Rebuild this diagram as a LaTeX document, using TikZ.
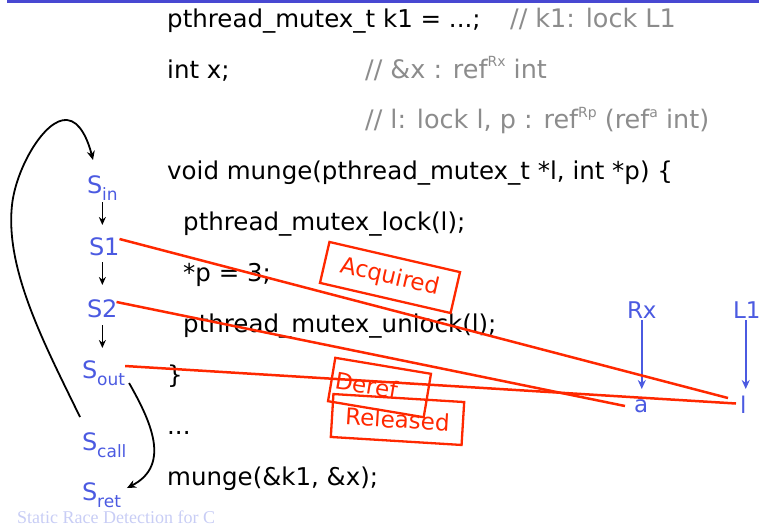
\documentclass[tikz,border=0pt]{standalone}
\usepackage{fontspec}
\setmainfont{DejaVu Sans}
\newfontfamily\footfont{Liberation Serif}
\usetikzlibrary{arrows.meta}
\definecolor{lblue}{RGB}{75,90,225}
\definecolor{barblue}{RGB}{72,72,210}
\definecolor{myred}{RGB}{255,40,0}
\definecolor{cgrey}{RGB}{140,140,140}
\definecolor{footblue}{RGB}{200,205,245}
\newcommand\supx[1]{\raisebox{0.45em}{\fontsize{14}{14}\selectfont #1}}
\newcommand\subx[1]{\raisebox{-0.3em}{\fontsize{17}{17}\selectfont #1}}
\begin{document}
\begin{tikzpicture}[x=1pt,y=-1pt,
  code/.style={anchor=base west,inner sep=0pt,font=\fontsize{24.5}{24.5}\selectfont},
  cmt/.style={code,text=cgrey,font=\fontsize{25.5}{25.5}\selectfont},
  lab/.style={anchor=base west,inner sep=0pt,outer sep=0pt,text=lblue,
    text height=17pt,text depth=0pt,font=\fontsize{24}{24}\selectfont},
  tagbox/.style={draw=myred,text=myred,line width=2.3pt,inner sep=0pt,
    font=\fontsize{23}{23}\selectfont},
  redline/.style={draw=myred,line width=2.5pt},
  sarr/.style={draw=black,line width=1.6pt,-{Stealth[length=8pt,width=7pt]}},
  barr/.style={draw=lblue,line width=2pt,-{Stealth[length=9pt,width=8pt]}},
  carr/.style={draw=black,line width=1.8pt,-{Stealth[length=9pt,width=8pt]}}]
\useasboundingbox (0,0) rectangle (759,528);
\fill[barblue] (7,0) rectangle (759,3);

% footer
\node[anchor=base west,inner sep=0pt,text=footblue,font=\footfont\fontsize{18}{18}\selectfont] (foot) at (17,523) {Static Race Detection for C};

% code
\node[code] (c0) at (167,27) {pthread\_mutex\_t k1 = ...;};
\node[cmt] (m0) at (510,27) {// k1: lock L1};
\node[code] (c1) at (167,78) {int x;};
\node[cmt] (m1) at (365,78) {// \&x : ref\supx{Rx} int};
\node[cmt] (m2) at (365,128.8) {// l: lock l, p : ref\supx{Rp} (ref\supx{a} int)};
\node[code] (c3) at (167,179.7) {void munge(pthread\_mutex\_t *l, int *p) \{};
\node[code] (c4) at (183,230.6) {pthread\_mutex\_lock(l);};
\node[code] (c5) at (183,281.5) {*p = 3;};
\node[code] (c6) at (183,332.4) {pthread\_mutex\_unlock(l);};
\node[code] (c7) at (167,383.3) {\}};
\node[code] (c8) at (167,434.2) {...};
\node[code] (c9) at (167,485) {munge(\&k1, \&x);};

% left labels
\node[lab] (sin) at (87,193) {S\subx{in}};
\node[lab] (s1) at (89,255) {S1};
\node[lab] (s2) at (87,317) {S2};
\node[lab] (sout) at (82,378) {S\subx{out}};
\node[lab] (scall) at (82,450) {S\subx{call}};
\node[lab] (sret) at (82,500) {S\subx{ret}};

\draw[sarr,shorten <=9pt,shorten >=13pt] (sin.south) -- (sin.south |- s1.north);
\draw[sarr,shorten <=7pt,shorten >=15pt] (sin.south |- s1.south) -- (sin.south |- s2.north);
\draw[sarr,shorten <=8pt,shorten >=13pt] (sin.south |- s2.south) -- (sin.south |- sout.north);

% curved call/return arrows
\draw[carr] ([shift={(-2,-16)}]scall.north west)
  .. controls (45,345) and (5,270) .. (12,205)
  .. controls (16,168) and (45,118) .. (67,120)
  .. controls (80,121) and (88,140) .. ([shift={(6,-16)}]sin.north west);
\draw[carr] ([shift={(4,5)}]sout.south east)
  .. controls (150,420) and (172,465) .. ([shift={(6,5)}]sret.north east);

% right side
\node[lab,font=\fontsize{23}{23}\selectfont] (rx) at (627,318) {Rx};
\node[lab,font=\fontsize{23}{23}\selectfont] (l1) at (733,318) {L1};
\node[lab,font=\fontsize{23}{23}\selectfont,text height=12pt] (anode) at (634,412) {a};
\node[lab,font=\fontsize{23}{23}\selectfont] (lnode) at (740,413) {l};
\draw[barr,shorten <=2pt,shorten >=11pt] ([xshift=0pt]rx.south) -- (rx.south |- anode.north);
\draw[barr,shorten <=2pt,shorten >=7pt] ([xshift=-1pt]l1.south) -- ([xshift=-1pt]l1.south |- lnode.north);

% red lines
\draw[redline] ([shift={(0,1)}]s1.north east) -- ([shift={(-12,2)}]lnode.north west);
\draw[redline] ([shift={(-1,2)}]s2.north east) -- ([shift={(-9,0)}]anode.west);
\draw[redline] ([shift={(0,5)}]sout.north east) -- ([shift={(-4,-1)}]lnode.west);

% tag boxes
\node[tagbox,minimum width=134pt,minimum height=42pt,rotate=-13] (acq) at (390,277.5) {Acquired};
\node[tagbox,minimum width=97pt,minimum height=44pt,rotate=-9.5,text width=97pt,align=left] (deref) at (379.5,387.5) {\hspace{4pt}Deref};
\node[tagbox,minimum width=131pt,minimum height=43pt,rotate=-3.5] (rel) at (397.5,419.5) {Released};
\end{tikzpicture}
\end{document}
